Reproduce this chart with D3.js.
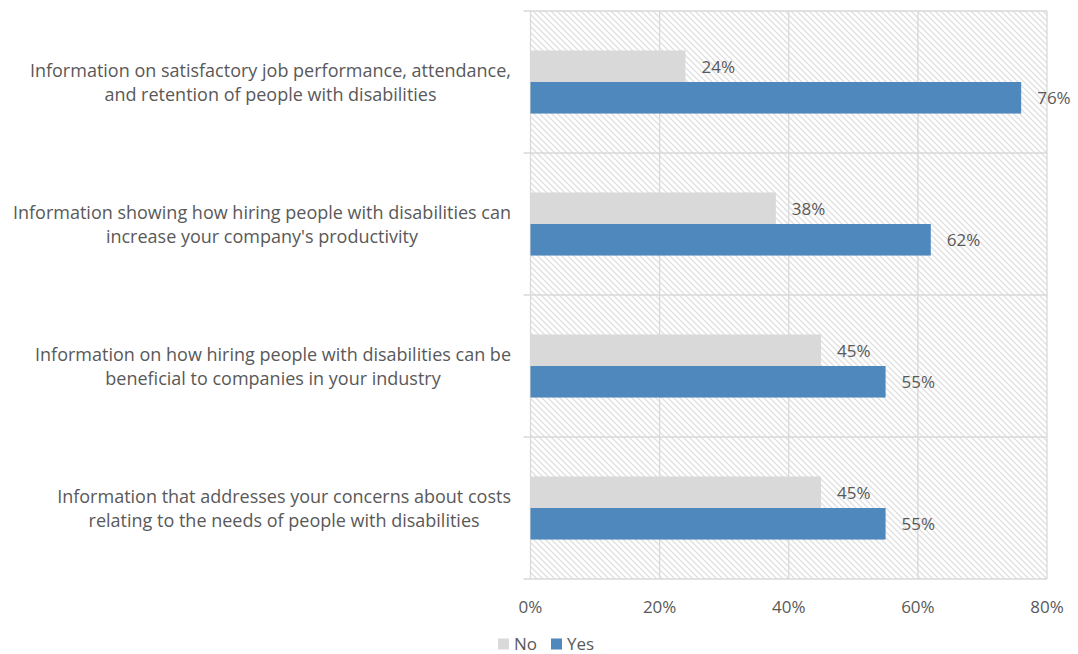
<!DOCTYPE html>
<html>
<head>
<meta charset="utf-8">
<script src="https://cdn.jsdelivr.net/npm/d3@7"></script>
<style>
  html, body { margin: 0; padding: 0; background: #fff; }
  svg { display: block; font-family: "Open Sans", Lato, sans-serif; }
</style>
</head>
<body>
<svg id="chart" width="1078" height="654"></svg>
<script>
// Survey items, top to bottom, each already split into its display lines
const categories = [
  ["Information on satisfactory job performance, attendance,", "and retention of people with disabilities"],
  ["Information showing how hiring people with disabilities can", "increase your company's productivity"],
  ["Information on how hiring people with disabilities can be", "beneficial to companies in your industry"],
  ["Information that addresses your concerns about costs", "relating to the needs of people with disabilities"]
];
const seriesNames = ["No", "Yes"];
const noValues = [24, 38, 45, 45];
const yesValues = [76, 62, 55, 55];
const xTicks = [0, 20, 40, 60, 80];

const colors = { No: "#d9d9d9", Yes: "#4f88bd" };
const textColor = "#595959";
const gridColor = "#d9d9d9";
const fontSize = 17;
const catFontSize = 18;

const svg = d3.select("#chart");
const plot = { left: 530.5, right: 1047, top: 11, bottom: 579 };

const x = d3.scaleLinear().domain([0, 80]).range([plot.left, plot.right]);
const y = d3.scaleBand().domain(d3.range(categories.length)).range([plot.top, plot.bottom]);
// two touching bars per category, with wide gaps between categories
const inner = d3.scaleBand().domain(seriesNames).range([0, y.bandwidth()])
  .paddingInner(0).paddingOuter(1.25);

// Hatched plot background
const defs = svg.append("defs");
const pat = defs.append("pattern")
  .attr("id", "hatch").attr("patternUnits", "userSpaceOnUse")
  .attr("width", 6).attr("height", 6);
pat.append("rect").attr("width", 6).attr("height", 6).attr("fill", "#fff");
pat.append("path").attr("d", "M-1,-1 L7,7 M-1,5 L1,7 M5,-1 L7,1")
  .attr("stroke", "#e0e0e0").attr("stroke-width", 1.3);

svg.append("rect")
  .attr("x", plot.left).attr("y", plot.top)
  .attr("width", plot.right - plot.left).attr("height", plot.bottom - plot.top)
  .attr("fill", "url(#hatch)");

// Vertical gridlines
svg.append("g").selectAll("line").data(xTicks).join("line")
  .attr("x1", d => x(d)).attr("x2", d => x(d))
  .attr("y1", plot.top).attr("y2", plot.bottom)
  .attr("stroke", gridColor).attr("stroke-width", 1.3);

// Category boundaries with short ticks on the left
const bounds = d3.range(categories.length + 1).map(i => i < categories.length ? y(i) : plot.bottom);
svg.append("g").selectAll("line").data(bounds).join("line")
  .attr("x1", plot.left - 7).attr("x2", plot.right)
  .attr("y1", d => d).attr("y2", d => d)
  .attr("stroke", gridColor).attr("stroke-width", 1.3);

// Bars
const groups = svg.append("g").selectAll("g").data(categories.map((c, i) => i)).join("g")
  .attr("transform", i => `translate(0,${y(i)})`);

const rows = i => [
  { key: "No", value: noValues[i] },
  { key: "Yes", value: yesValues[i] }
];

groups.selectAll("rect").data(rows).join("rect")
  .attr("x", x(0))
  .attr("y", d => inner(d.key))
  .attr("width", d => x(d.value) - x(0))
  .attr("height", inner.bandwidth())
  .attr("fill", d => colors[d.key]);

groups.selectAll("text.val").data(rows).join("text")
  .attr("class", "val")
  .attr("x", d => x(d.value) + 16)
  .attr("y", d => inner(d.key) + inner.bandwidth() / 2 + 6.5)
  .attr("fill", textColor)
  .attr("font-size", fontSize)
  .text(d => d.value + "%");

// Category labels: each block centred on its widest line, right edge near the axis
const labelRight = 511;
const labels = svg.append("g").selectAll("text.cat").data(categories).join("text")
  .attr("class", "cat")
  .attr("fill", textColor)
  .attr("font-size", catFontSize)
  .attr("text-anchor", "middle");
labels.each(function (lines, i) {
  const t = d3.select(this);
  const cy = y(i) + y.bandwidth() / 2;
  lines.forEach((ln, j) => {
    t.append("tspan").attr("y", cy - 5 + j * 23.5).text(ln);
  });
  let maxW = 0;
  t.selectAll("tspan").each(function () { maxW = Math.max(maxW, this.getComputedTextLength()); });
  t.selectAll("tspan").attr("x", labelRight - maxW / 2);
});

// X axis tick labels
svg.append("g").selectAll("text").data(xTicks).join("text")
  .attr("x", d => x(d)).attr("y", 613)
  .attr("text-anchor", "middle").attr("fill", textColor).attr("font-size", fontSize)
  .text(d => d + "%");

// Legend
const legend = svg.append("g").attr("transform", "translate(498,644)");
const items = [{ key: "No", x: 0 }, { key: "Yes", x: 53 }];
legend.selectAll("rect").data(items).join("rect")
  .attr("x", d => d.x).attr("y", -5.5).attr("width", 11).attr("height", 11)
  .attr("fill", d => colors[d.key]);
legend.selectAll("text").data(items).join("text")
  .attr("x", d => d.x + 16).attr("y", 5.5)
  .attr("fill", textColor).attr("font-size", fontSize)
  .text(d => d.key);
</script>
</body>
</html>
